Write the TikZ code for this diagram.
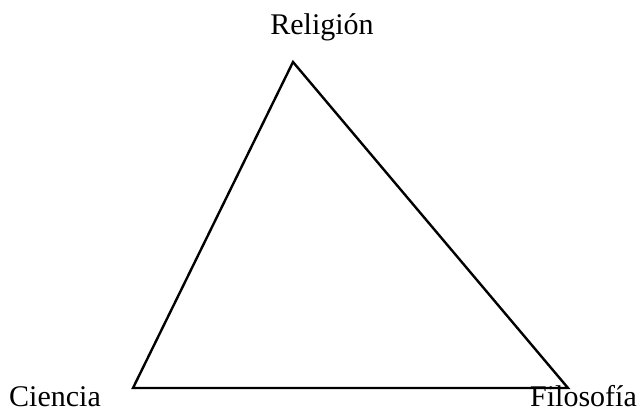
\documentclass[tikz,border=0pt]{standalone}
\usepackage{fontspec}
\setmainfont{Liberation Serif}
\begin{document}
\begin{tikzpicture}[x=1pt,y=1pt,
  lbl/.style={font=\fontsize{30}{36}\selectfont, inner sep=0pt, text depth=0pt},
  edge/.style={line width=2.4pt, line join=miter}]
\useasboundingbox (0,0) rectangle (640,415);
\coordinate (top) at (293,353);
\coordinate (bl) at (133,27);
\coordinate (br) at (568,27);
\draw[edge] (top) -- (bl) -- (br) -- cycle;
\node[lbl, anchor=base] (rel) at (322,380) {Religión};
\node[lbl, anchor=base west] (cie) at (9,8) {Ciencia};
\node[lbl, anchor=base west] (fil) at (530,8) {Filosofía};
\end{tikzpicture}
\end{document}
